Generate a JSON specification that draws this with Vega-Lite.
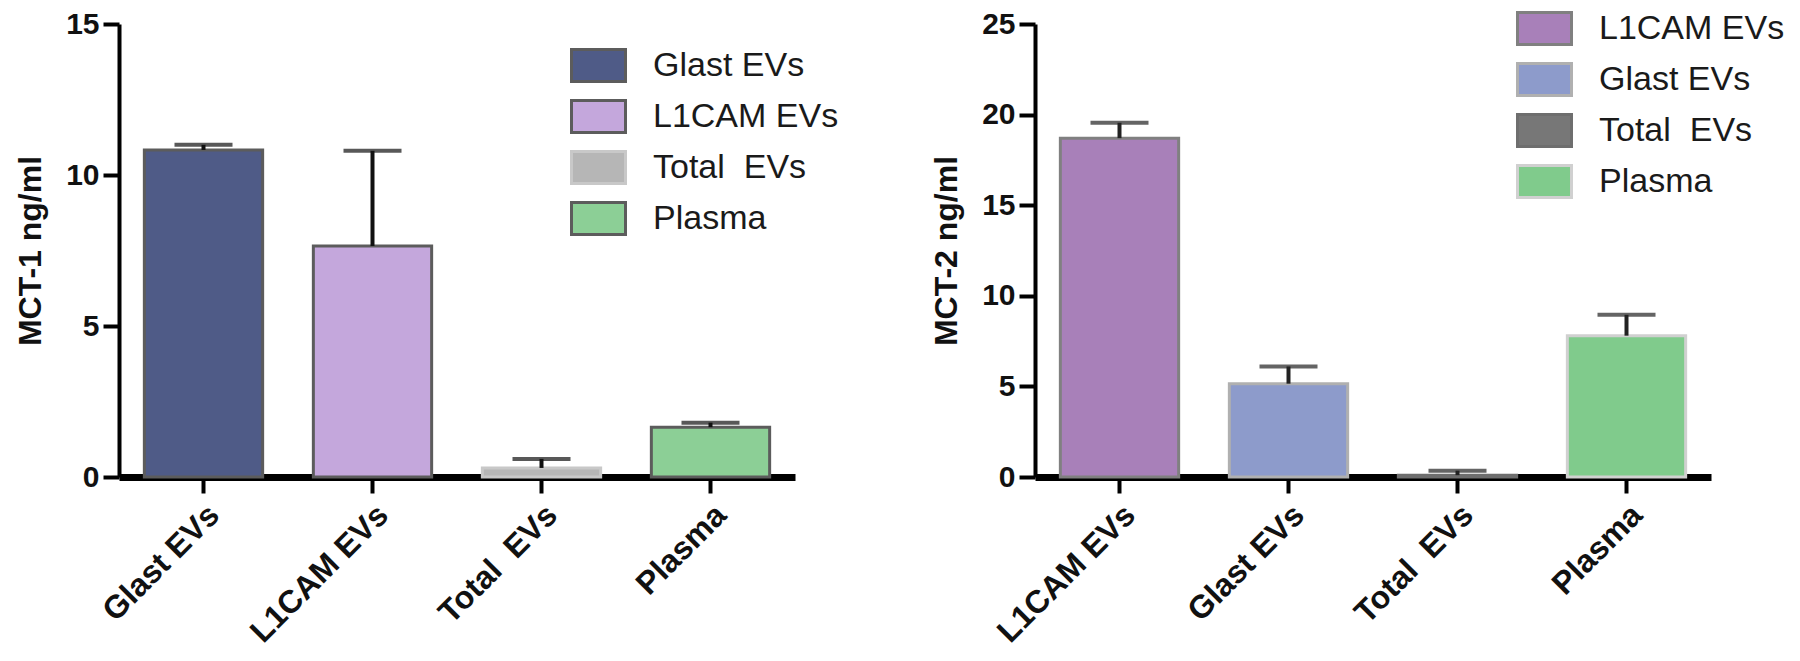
{
  "$schema": "https://vega.github.io/schema/vega-lite/v6.json",
  "background": "white",
  "padding": {"left": 14, "top": 0, "right": 0, "bottom": 0},
  "bounds": "flush",
  "spacing": 240,
  "config": {
    "view": {"stroke": null},
    "font": "Liberation Sans",
    "axis": {
      "labelFont": "Liberation Sans",
      "labelFontWeight": "bold",
      "labelFontSize": 30,
      "labelColor": "#111111",
      "titleFont": "Liberation Sans",
      "titleFontWeight": "bold",
      "titleFontSize": 32,
      "titleColor": "#111111",
      "domainColor": "#000000",
      "tickColor": "#000000",
      "grid": false,
      "zindex": 1
    },
    "axisY": {"domainWidth": 4, "tickWidth": 4, "tickSize": 16, "labelPadding": 4, "titlePadding": 18},
    "axisX": {"domainWidth": 7, "tickWidth": 4, "tickSize": 16, "labelPadding": 6, "labelAngle": -45, "labelFontSize": 32},
    "legend": {
      "orient": "none",
      "title": null,
      "symbolType": "M-1,-0.593H1V0.593H-1Z",
      "symbolSize": 2916,
      "symbolStrokeWidth": 3,
      "labelFont": "Liberation Sans",
      "labelFontSize": 34,
      "labelColor": "#1a1a1a",
      "labelOffset": 26,
      "rowPadding": -1,
      "labelLimit": 400
    }
  },
  "datasets": {
    "mct1": [
      {"group": "Glast EVs", "value": 10.83, "err": 11.0},
      {"group": "L1CAM EVs", "value": 7.65, "err": 10.8},
      {"group": "Total\u00a0 EVs", "value": 0.3, "err": 0.6},
      {"group": "Plasma", "value": 1.65, "err": 1.8}
    ],
    "mct2": [
      {"group": "L1CAM EVs", "value": 18.7, "err": 19.55},
      {"group": "Glast EVs", "value": 5.15, "err": 6.1},
      {"group": "Total\u00a0 EVs", "value": 0.1, "err": 0.35},
      {"group": "Plasma", "value": 7.8, "err": 8.95}
    ]
  },
  "resolve": {"scale": {"color": "independent", "stroke": "independent", "x": "independent", "y": "independent"}, "legend": {"color": "independent", "stroke": "independent"}},
  "hconcat": [
    {
      "width": 676,
      "height": 453,
      "data": {"name": "mct1"},
      "encoding": {
        "x": {"field": "group", "type": "nominal", "sort": null, "scale": {"paddingInner": 0.3, "paddingOuter": 0.15}, "axis": {"title": null}}
      },
      "layer": [
        {
          "mark": {"type": "bar", "strokeWidth": 3},
          "encoding": {
            "y": {"field": "value", "type": "quantitative", "scale": {"domain": [0, 15], "nice": false}, "axis": {"title": "MCT-1 ng/ml", "values": [0, 5, 10, 15]}},
            "color": {"field": "group", "type": "nominal", "sort": null,
              "scale": {"domain": ["Glast EVs", "L1CAM EVs", "Total\u00a0 EVs", "Plasma"], "range": ["#4f5b87", "#c4a7dc", "#b6b6b6", "#8ccf96"]},
              "legend": {"legendX": 451, "legendY": 13}},
            "stroke": {"field": "group", "type": "nominal", "sort": null,
              "scale": {"domain": ["Glast EVs", "L1CAM EVs", "Total\u00a0 EVs", "Plasma"], "range": ["#5c5c5c", "#5c5c5c", "#c8c8c8", "#5c5c5c"]},
              "legend": {"legendX": 451, "legendY": 13}}
          }
        },
        {
          "mark": {"type": "rule", "strokeWidth": 4, "color": "#111111"},
          "encoding": {"y": {"field": "value", "type": "quantitative"}, "y2": {"field": "err"}}
        },
        {
          "mark": {"type": "tick", "thickness": 4, "size": 58, "color": "#111111"},
          "encoding": {"y": {"field": "err", "type": "quantitative"}}
        }
      ]
    },
    {
      "width": 676,
      "height": 453,
      "data": {"name": "mct2"},
      "encoding": {
        "x": {"field": "group", "type": "nominal", "sort": null, "scale": {"paddingInner": 0.3, "paddingOuter": 0.15}, "axis": {"title": null}}
      },
      "layer": [
        {
          "mark": {"type": "bar", "strokeWidth": 3},
          "encoding": {
            "y": {"field": "value", "type": "quantitative", "scale": {"domain": [0, 25], "nice": false}, "axis": {"title": "MCT-2 ng/ml", "values": [0, 5, 10, 15, 20, 25]}},
            "color": {"field": "group", "type": "nominal", "sort": null,
              "scale": {"domain": ["L1CAM EVs", "Glast EVs", "Total\u00a0 EVs", "Plasma"], "range": ["#a880b9", "#8d9bcb", "#777777", "#80cb8c"]},
              "legend": {"legendX": 481, "legendY": -24}},
            "stroke": {"field": "group", "type": "nominal", "sort": null,
              "scale": {"domain": ["L1CAM EVs", "Glast EVs", "Total\u00a0 EVs", "Plasma"], "range": ["#808080", "#b0b0b0", "#6e6e6e", "#d0d0d0"]},
              "legend": {"legendX": 481, "legendY": -24}}
          }
        },
        {
          "mark": {"type": "rule", "strokeWidth": 4, "color": "#222222"},
          "encoding": {"y": {"field": "value", "type": "quantitative"}, "y2": {"field": "err"}}
        },
        {
          "mark": {"type": "tick", "thickness": 4, "size": 58, "color": "#222222"},
          "encoding": {"y": {"field": "err", "type": "quantitative"}}
        }
      ]
    }
  ]
}
